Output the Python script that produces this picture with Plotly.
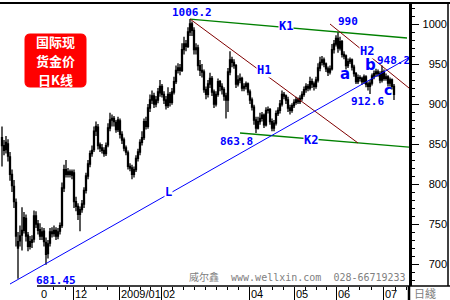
import plotly.graph_objects as go

# ---- daily gold spot OHLC, Oct 2008 - Jul 2009 ----
opens = [858, 848, 843, 850, 834, 812, 797, 777, 720, 729,
         736, 742, 757, 736, 722, 727, 731, 760, 750, 743,
         735, 741, 727, 713, 726, 740, 738, 742, 735, 741,
         748, 795, 818, 812, 815, 811, 814, 778, 772, 762,
         768, 775, 792, 810, 825, 838, 843, 866, 871, 849,
         845, 842, 838, 849, 870, 880, 882, 877, 868, 879,
         862, 855, 845, 839, 822, 820, 812, 818, 832, 840,
         852, 858, 878, 872, 895, 905, 910, 900, 905, 914,
         922, 912, 905, 898, 912, 902, 915, 928, 942, 945,
         942, 968, 975, 972, 990, 1000, 992, 968, 970, 948,
         942, 940, 918, 912, 925, 932, 915, 900, 912, 928,
         922, 918, 910, 905, 940, 955, 952, 948, 925, 930,
         932, 920, 922, 925, 915, 905, 896, 880, 870, 878,
         882, 886, 874, 892, 893, 878, 870, 876, 888, 892,
         900, 912, 910, 905, 895, 892, 898, 902, 905, 903,
         907, 912, 918, 922, 920, 928, 925, 922, 930, 945,
         952, 955, 950, 944, 940, 944, 968, 975, 982, 970,
         978, 962, 960, 948, 953, 955, 946, 938, 928, 933,
         932, 928, 934, 925, 922, 926, 935, 938, 940, 938,
         930, 940, 932, 934, 926, 930, 922]
highs = [872, 855, 860, 856, 840, 818, 805, 782, 740, 748,
         771, 765, 762, 740, 735, 736, 767, 766, 755, 751,
         746, 745, 733, 730, 745, 746, 748, 746, 745, 752,
         802, 824, 830, 820, 818, 818, 818, 784, 776, 772,
         780, 796, 814, 830, 842, 848, 872, 878, 875, 852,
         850, 846, 852, 876, 889, 887, 885, 880, 884, 882,
         866, 858, 848, 842, 826, 824, 822, 836, 844, 856,
         866, 882, 884, 900, 912, 917, 914, 910, 920, 930,
         925, 916, 910, 921, 915, 920, 934, 948, 951, 950,
         976, 984, 980, 996, 1006.2, 1003, 996, 976, 974, 955,
         950, 943, 922, 930, 939, 935, 918, 916, 932, 930,
         926, 921, 914, 945, 966, 959, 956, 950, 936, 938,
         934, 926, 928, 927, 918, 908, 899, 884, 884, 889,
         890, 888, 896, 897, 895, 882, 880, 892, 896, 905,
         917, 915, 912, 909, 899, 901, 906, 909, 908, 911,
         916, 922, 926, 925, 934, 932, 928, 934, 951, 959,
         960, 958, 952, 947, 948, 975, 980, 986, 990, 984,
         980, 966, 962, 957, 958, 957, 949, 940, 937, 936,
         934, 937, 936, 928, 930, 938, 942, 944, 943, 941,
         948.2, 943, 938, 936, 933, 932, 925]
lows = [822, 836, 838, 828, 804, 790, 770, 722, 681.45, 722,
        717, 738, 728, 716, 718, 720, 727, 745, 737, 730,
        730, 722, 699, 707, 722, 733, 734, 730, 731, 737,
        745, 790, 808, 808, 808, 806, 770, 766, 755, 741,
        764, 770, 788, 806, 821, 834, 840, 860, 843, 840,
        838, 834, 835, 846, 866, 872, 872, 864, 865, 857,
        850, 841, 836, 818, 816, 806, 808, 815, 828, 836,
        848, 855, 868, 869, 890, 900, 895, 896, 901, 909,
        908, 900, 893, 895, 897, 899, 912, 925, 938, 936,
        940, 962, 966, 970, 985, 985, 962, 962, 942, 935,
        933, 914, 906, 908, 920, 910, 895, 897, 909, 916,
        912, 904, 882, 890, 936, 946, 944, 920, 922, 926,
        916, 916, 918, 911, 900, 892, 874, 863.8, 868, 874,
        878, 870, 872, 888, 874, 866, 866, 873, 885, 888,
        897, 906, 900, 890, 887, 889, 895, 899, 900, 900,
        904, 909, 914, 916, 917, 920, 917, 919, 927, 941,
        948, 946, 940, 935, 937, 942, 963, 972, 964, 967,
        958, 956, 943, 945, 950, 942, 934, 925, 925, 928,
        924, 925, 921, 917, 912.6, 923, 931, 934, 934, 926,
        927, 929, 929, 922, 922, 918, 905]
closes = [848, 842, 852, 835, 812, 798, 778, 735, 728, 735,
          742, 758, 735, 722, 728, 730, 760, 750, 742, 735,
          740, 728, 712, 725, 740, 738, 742, 735, 740, 748,
          795, 818, 812, 815, 812, 815, 778, 772, 762, 768,
          775, 792, 810, 825, 838, 842, 866, 872, 848, 845,
          842, 838, 848, 870, 880, 882, 878, 868, 880, 862,
          855, 845, 840, 822, 820, 812, 818, 832, 840, 852,
          858, 878, 872, 895, 905, 910, 900, 905, 915, 922,
          912, 905, 898, 912, 902, 915, 928, 942, 945, 942,
          968, 975, 972, 990, 1000, 992, 968, 970, 948, 942,
          940, 918, 912, 925, 932, 915, 900, 912, 928, 922,
          918, 910, 905, 940, 955, 952, 948, 925, 930, 932,
          920, 922, 925, 915, 905, 896, 880, 870, 878, 882,
          886, 874, 892, 893, 878, 870, 876, 888, 892, 900,
          912, 910, 905, 895, 892, 898, 902, 905, 903, 907,
          912, 918, 922, 920, 928, 925, 922, 930, 945, 952,
          955, 950, 944, 940, 944, 968, 975, 982, 970, 978,
          962, 960, 948, 953, 955, 946, 938, 928, 933, 932,
          928, 934, 925, 922, 926, 935, 938, 940, 938, 930,
          940, 932, 934, 926, 930, 922, 912]
days = list(range(len(closes)))

# analyst trend lines (day index, price)
k1_x, k1_y = [94, 202.5], [1006.2, 982.5]
h1_x, h1_y = [94, 178], [1006.2, 851.25]
k2_x, k2_y = [119, 203.5], [863.75, 846.0]
h2_x, h2_y = [164, 203.5], [1000, 920]
l_x, l_y = [4, 203.5], [675, 958]

# axis ticks
month_sep = [35.5, 58.5, 79.5, 123.5, 146, 167, 190.5]
month_label_pos = [19.5, 36.5, 59.5, 80.5, 124.5, 147, 168, 191.5]
month_labels = ["0", "12", "2009/01", "02", "04", "05", "06", "07"]
week_ticks = [25.5, 31.5, 41.25, 47, 52.75, 63.75, 69, 74.25,
              85, 90.5, 96, 101.5, 107, 112.5, 118,
              129.25, 135, 140.75, 151.5, 157, 162.25,
              173, 178.75, 184.5, 196.5, 202]
price_ticks = [700, 750, 800, 850, 900, 950, 1000]
price_labels = ["700", "750", "800", "850", "900", "950", "1000"]
box_lines = ["国际现", "货金价", "日K线"]

W, H = 450, 300
ML, MT, MB = 0, 3, 14
PH = H - MT - MB
XR = [-1, 203.5]
YR = [672.5, 1026.25]
BLUE = "#0000ff"

def px(xp):
    return xp / W

def py(yp):
    return (H - MB - yp) / PH

fig = go.Figure()
fig.add_trace(go.Candlestick(
    x=days, open=opens, high=highs, low=lows, close=closes,
    increasing=dict(line=dict(color="black", width=1.3), fillcolor="black"),
    decreasing=dict(line=dict(color="black", width=1.3), fillcolor="black"),
    whiskerwidth=0, showlegend=False, hoverinfo="skip"))

for xs, ys, col, w in [(k1_x, k1_y, "#008000", 1.3), (k2_x, k2_y, "#008000", 1.3),
                       (h1_x, h1_y, "#800000", 1), (h2_x, h2_y, "#800000", 1),
                       (l_x, l_y, "#0000ff", 1)]:
    fig.add_trace(go.Scatter(x=xs, y=ys, mode="lines", line=dict(color=col, width=w),
                             showlegend=False, hoverinfo="skip"))

# helper traces for the overlay axes (labels)
fig.add_trace(go.Scatter(x=[], y=[], xaxis="x2", yaxis="y", showlegend=False))
fig.add_trace(go.Scatter(x=[], y=[], xaxis="x", yaxis="y2", showlegend=False))

dom = [0, 409 / W]
fig.update_layout(
    width=W, height=H, margin=dict(l=ML, r=0, t=MT, b=MB, autoexpand=False),
    paper_bgcolor="white", plot_bgcolor="white", hovermode=False,
    xaxis=dict(domain=dom, range=XR, showgrid=False, zeroline=False, showline=False,
               rangeslider=dict(visible=False), tickmode="array", tickvals=month_sep,
               ticks="outside", ticklen=13, tickwidth=1, tickcolor="black",
               showticklabels=False, automargin=False,
               minor=dict(tickmode="array", tickvals=week_ticks, ticks="outside",
                          ticklen=3, tickwidth=1, tickcolor="black", showgrid=False)),
    xaxis2=dict(overlaying="x", anchor="y", side="bottom", range=XR, showgrid=False,
                zeroline=False, showline=False, tickmode="array",
                tickvals=month_label_pos, ticktext=month_labels, ticks="",
                ticklabelposition="outside right", automargin=False,
                tickfont=dict(family="Liberation Sans", size=11, color="black")),
    yaxis=dict(domain=[0, 1], range=YR, side="right", anchor="x", showgrid=False,
               zeroline=False, showline=True, linewidth=2.5, linecolor="black",
               tickmode="array", tickvals=price_ticks, ticks="outside", ticklen=7,
               tickwidth=1, tickcolor="black", showticklabels=False, automargin=False,
               minor=dict(dtick=10, ticks="outside", ticklen=3, tickwidth=1,
                          tickcolor="black", showgrid=False)),
    yaxis2=dict(overlaying="y", anchor="free", position=447 / W, side="left",
                range=YR, showgrid=False, zeroline=False, showline=False,
                tickmode="array", tickvals=price_ticks, ticktext=price_labels,
                ticks="", automargin=False,
                tickfont=dict(family="Liberation Sans", size=11, color="black")),
)

shapes = [
    dict(type="line", xref="paper", yref="paper", x0=0, x1=1, y0=py(3), y1=py(3),
         line=dict(color="black", width=2)),
    dict(type="line", xref="paper", yref="paper", x0=px(448), x1=px(448), y0=py(3), y1=py(286),
         line=dict(color="black", width=1.5)),
    dict(type="line", xref="paper", yref="paper", x0=px(37), x1=1, y0=py(286), y1=py(286),
         line=dict(color="black", width=1.5)),
    dict(type="line", xref="paper", yref="paper", x0=px(409), x1=px(409), y0=py(286), y1=py(300),
         line=dict(color="black", width=2.5)),
]
# red rounded label box
bx0, bx1, by0, by1, r = 25, 86, 34, 87, 5
path = (f"M {px(bx0 + r)},{py(by0)} L {px(bx1 - r)},{py(by0)} Q {px(bx1)},{py(by0)} {px(bx1)},{py(by0 + r)} "
        f"L {px(bx1)},{py(by1 - r)} Q {px(bx1)},{py(by1)} {px(bx1 - r)},{py(by1)} "
        f"L {px(bx0 + r)},{py(by1)} Q {px(bx0)},{py(by1)} {px(bx0)},{py(by1 - r)} "
        f"L {px(bx0)},{py(by0 + r)} Q {px(bx0)},{py(by0)} {px(bx0 + r)},{py(by0)} Z")
shapes.append(dict(type="path", xref="paper", yref="paper", path=path,
                   fillcolor="#ff0000", line=dict(color="#ff0000", width=1)))
fig.update_layout(shapes=shapes)

ann = []
def lab(text, x, y, size=11, bg=None, fam="DejaVu Sans Mono"):
    d = dict(text=f"<b>{text}</b>", x=x, y=y, xref="x", yref="y", showarrow=False,
             font=dict(family=fam, size=size, color=BLUE), xanchor="center", yanchor="middle")
    if bg:
        d.update(bgcolor=bg, borderpad=0)
    ann.append(d)

lab("1006.2", 95, 1014.4)
lab("K1", 141.75, 996.9, 12, "white")
lab("990", 173, 1003)
lab("H2", 182.25, 966, 12, "white")
lab("H1", 130.75, 941.9, 12, "white")
lab("863.8", 117.25, 853.75)
lab("K2", 154.25, 855, 12, "white")
lab("L", 83.25, 790.6, 12, "white")
lab("681.45", 27, 680)
lab("a", 171.5, 937.5, 15, None, "DejaVu Sans")
lab("b", 184, 948.5, 15, None, "DejaVu Sans")
lab("c", 193, 918, 14, None, "DejaVu Sans")
lab("948.2", 195.5, 955)
lab("912.6", 182.5, 903.25)

for t, yy in zip(box_lines, [41.5, 60.5, 79.5]):
    ann.append(dict(text=f"<b>{t}</b>", x=px(55.5), y=py(yy), xref="paper", yref="paper",
                    showarrow=False, xanchor="center", yanchor="middle",
                    font=dict(family="Noto Sans CJK SC", size=13, color="white")))

ann.append(dict(text="威尔鑫\u00a0\u00a0www.wellxin.com\u00a0\u00a0028-66719233",
                x=px(187), y=py(277), xref="paper", yref="paper", showarrow=False,
                xanchor="left", yanchor="middle",
                font=dict(family="DejaVu Sans Mono, Noto Sans CJK SC", size=10, color="#808080")))
ann.append(dict(text="日綫", x=px(412), y=py(293), xref="paper", yref="paper",
                showarrow=False, xanchor="left", yanchor="middle",
                font=dict(family="Noto Sans CJK SC", size=11, color="#808080")))
fig.update_layout(annotations=ann)

fig.write_html("out.html")
